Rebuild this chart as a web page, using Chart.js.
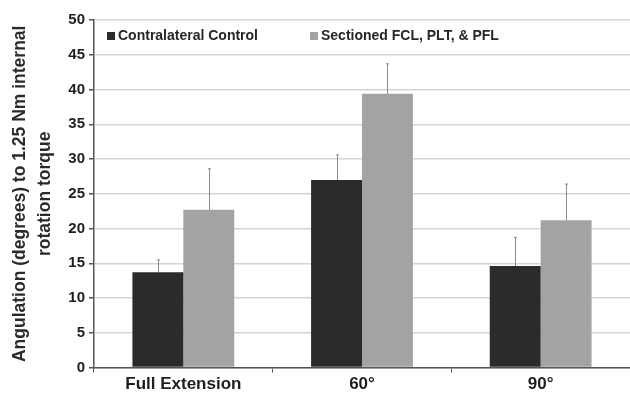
<!DOCTYPE html>
<html lang="en">
<head>
  <meta charset="UTF-8">
  <title>Angulation to internal rotation torque</title>
  <script src="https://cdn.jsdelivr.net/npm/chart.js"></script>
  <style>
    html, body { margin: 0; padding: 0; background: #fff; }
    #wrap { width: 630px; height: 394px; }
  </style>
</head>
<body>
  <div id="wrap"><canvas id="chart"></canvas></div>
  <script>
    // values
    const categories = ['Full Extension', '60°', '90°'];
    const control = [13.7, 27.0, 14.6];
    const controlErr = [1.8, 3.6, 4.1];
    const sectioned = [22.7, 39.4, 21.2];
    const sectionedErr = [5.9, 4.3, 5.2];
    const yTicks = [0, 5, 10, 15, 20, 25, 30, 35, 40, 45, 50];

    const FONT = '"Liberation Sans", Arial, sans-serif';

    // vertical error lines above each bar
    const errorBars = {
      id: 'errorBars',
      afterDatasetsDraw(chart) {
        const ctx = chart.ctx;
        const y = chart.scales.y;
        const errs = [controlErr, sectionedErr];
        ctx.save();
        ctx.strokeStyle = '#8a8a8a';
        ctx.lineWidth = 1;
        chart.data.datasets.forEach((ds, i) => {
          chart.getDatasetMeta(i).data.forEach((bar, j) => {
            const x = Math.round(bar.x) + 0.5;
            const top = y.getPixelForValue(ds.data[j] + errs[i][j]);
            ctx.beginPath();
            ctx.moveTo(x, bar.y);
            ctx.lineTo(x, top);
            ctx.moveTo(x - 1.5, top);
            ctx.lineTo(x + 1.5, top);
            ctx.stroke();
          });
        });
        ctx.restore();
      }
    };

    // legend sitting inside the plot, under the top gridline
    const innerLegend = {
      id: 'innerLegend',
      afterDraw(chart) {
        const ctx = chart.ctx;
        const a = chart.chartArea;
        const ly = a.top + 16;
        const items = [
          { x: a.left + 13, text: 'Contralateral Control', color: '#2b2b2b' },
          { x: a.left + 216, text: 'Sectioned FCL, PLT, & PFL', color: '#a3a3a3' }
        ];
        ctx.save();
        ctx.font = 'bold 14px ' + FONT;
        ctx.textBaseline = 'middle';
        items.forEach(it => {
          ctx.fillStyle = it.color;
          ctx.fillRect(it.x, ly - 4, 8, 8);
          ctx.fillStyle = '#262626';
          ctx.fillText(it.text, it.x + 11, ly);
        });
        ctx.restore();
      }
    };

    new Chart(document.getElementById('chart'), {
      type: 'bar',
      data: {
        labels: categories,
        datasets: [
          { label: 'Contralateral Control', data: control, backgroundColor: '#2b2b2b' },
          { label: 'Sectioned FCL, PLT, & PFL', data: sectioned, backgroundColor: '#a3a3a3' }
        ]
      },
      options: {
        responsive: true,
        maintainAspectRatio: false,
        animation: false,
        layout: { padding: { top: 20, right: -4, bottom: -3, left: 6 } },
        plugins: { legend: { display: false }, tooltip: { enabled: false } },
        datasets: { bar: { categoryPercentage: 0.57, barPercentage: 1.0 } },
        scales: {
          x: {
            grid: { offset: true, drawOnChartArea: false, color: '#555', tickLength: 5, tickWidth: 1 },
            border: { color: '#555', width: 1.5 },
            ticks: { color: '#1e1e1e', font: { family: FONT, size: 17, weight: 'bold' }, padding: 2 }
          },
          y: {
            min: 0,
            max: 50,
            afterBuildTicks(s) { s.ticks = yTicks.map(v => ({ value: v })); },
            afterFit(s) { s.width = 88; },
            grid: { color: '#d4d4d4', lineWidth: 1.5, tickLength: 5, tickColor: '#555' },
            border: { color: '#555', width: 1.5 },
            ticks: { color: '#1e1e1e', font: { family: FONT, size: 15, weight: 'bold' }, padding: 4 },
            title: {
              display: true,
              text: ['Angulation (degrees) to 1.25 Nm internal', 'rotation torque'],
              color: '#2a2a2a',
              font: { family: FONT, size: 17.5, weight: 'bold', lineHeight: 1.42 },
              padding: { top: 2, bottom: 0 }
            }
          }
        }
      },
      plugins: [errorBars, innerLegend]
    });
  </script>
</body>
</html>
